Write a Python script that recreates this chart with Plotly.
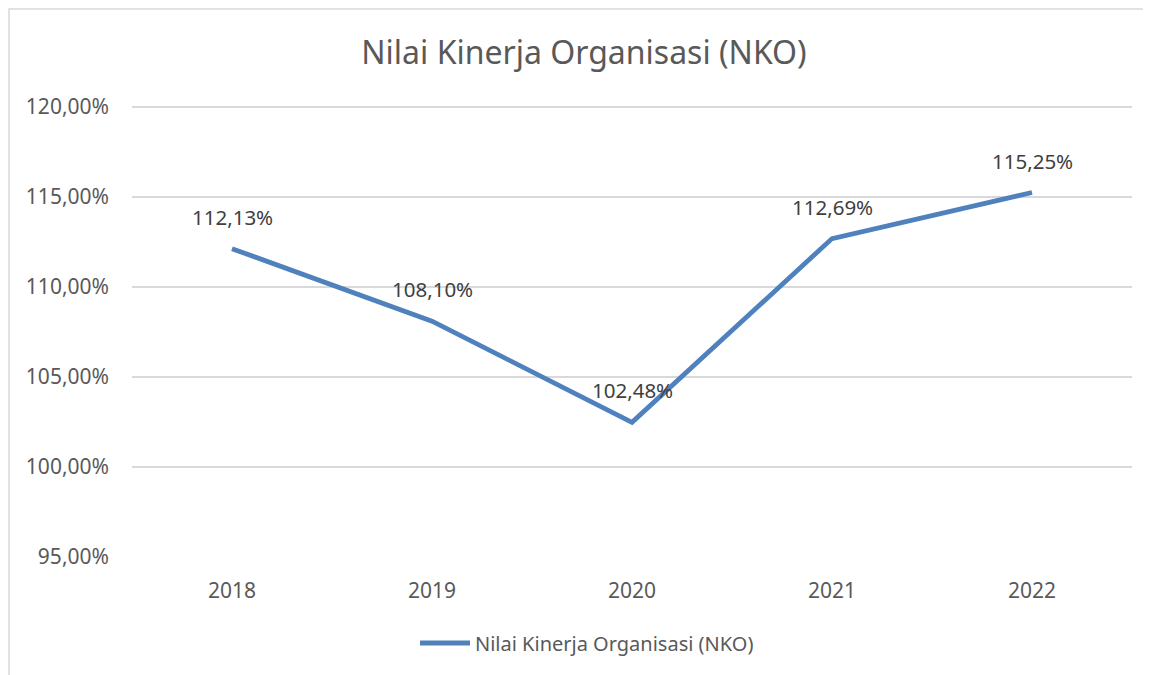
import plotly.graph_objects as go

years = ["2018", "2019", "2020", "2021", "2022"]
nko = [112.13, 108.10, 102.48, 112.69, 115.25]
series_name = "Nilai Kinerja Organisasi (NKO)"
title_text = "Nilai Kinerja Organisasi (NKO)"

FONT = "Noto Sans"
TXT = "#595959"
LINE = "#4F81BD"

fig = go.Figure()
fig.add_trace(go.Scatter(
    x=years, y=nko, mode="lines", name=series_name,
    line=dict(color=LINE, width=4.8),
))

for i, yv in enumerate(nko):
    fig.add_annotation(
        x=i, y=yv, text=f"{yv:.2f}".replace(".", ",") + "%",
        showarrow=False, yshift=32, font=dict(family=FONT, size=20.5, color="#404040"),
    )

# page body has an 8px margin; compensate
OFF = 8
W, H = 1151 - OFF, 675 - OFF
L, R, T, B = 132 - OFF, 19, 107 - OFF - 9, 118
pw, ph = W - L - R, H - T - B

fig.add_shape(type="rect", xref="paper", yref="paper",
              x0=(9 - OFF - L) / pw, x1=1.2, y0=-0.6, y1=(H - B - (9 - OFF)) / ph,
              line=dict(color="#d9d9d9", width=1.5), fillcolor="rgba(0,0,0,0)", layer="below")

fig.update_layout(
    width=W, height=H,
    margin=dict(l=L, r=R, t=T, b=B),
    paper_bgcolor="white", plot_bgcolor="white",
    separators=",.",
    title=dict(text=title_text, x=(584 - OFF) / W, xanchor="center", y=1 - (53 - OFF) / H, yanchor="middle",
               font=dict(family=FONT, size=32, color=TXT)),
    font=dict(family=FONT, color=TXT, size=20),
    showlegend=True,
    legend=dict(orientation="h", x=(587 - 132) / pw, xanchor="center", y=(H - B - (643 - OFF)) / ph, yanchor="middle",
                font=dict(family=FONT, size=20, color=TXT), itemwidth=50),
    xaxis=dict(type="category", range=[-0.5, 4.5], showgrid=False, showline=False,
               zeroline=False, ticks="", ticklabelstandoff=19,
               tickfont=dict(family=FONT, size=21, color=TXT)),
    yaxis=dict(range=[95, 120.5], dtick=5, tick0=95, tickformat=".2f", ticksuffix="%",
               showgrid=True, gridcolor="#d9d9d9", gridwidth=1.5, zeroline=False,
               showline=False, ticks="", ticklabelstandoff=22,
               tickfont=dict(family=FONT, size=21, color=TXT)),
)

fig.write_html("out.html")
